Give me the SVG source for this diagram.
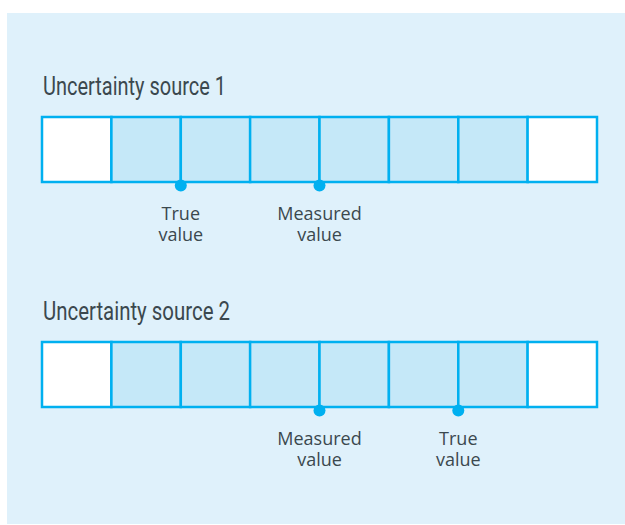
<svg xmlns="http://www.w3.org/2000/svg" width="625" height="525" viewBox="0 0 625 525">
  <style>
    .panel { fill: #dff1fb; }
    .cell { fill: #c5e8f8; stroke: #00b0f0; stroke-width: 2.5; }
    .end { fill: #ffffff; stroke: #00b0f0; stroke-width: 2.5; }
    .dot { fill: #00b0f0; }
    .title { font-family: Roboto, "Liberation Sans", sans-serif; font-size: 25px; fill: #3b484e; }
    .lbl { font-family: "Open Sans", "Noto Sans", sans-serif; font-size: 18px; fill: #3b484e; text-anchor: middle; }
  </style>
  <rect class="panel" x="7" y="13" width="618" height="511"/>

  <g id="source1">
    <text class="title" x="43" y="95" textLength="183" lengthAdjust="spacingAndGlyphs">Uncertainty source 1</text>
    <g id="bar1">
      <rect class="end" x="42" y="117" width="69.4" height="65"/>
      <rect class="cell" x="111.4" y="117" width="69.4" height="65"/>
      <rect class="cell" x="180.8" y="117" width="69.4" height="65"/>
      <rect class="cell" x="250.1" y="117" width="69.4" height="65"/>
      <rect class="cell" x="319.5" y="117" width="69.4" height="65"/>
      <rect class="cell" x="388.9" y="117" width="69.4" height="65"/>
      <rect class="cell" x="458.3" y="117" width="69.4" height="65"/>
      <rect class="end" x="527.6" y="117" width="69.4" height="65"/>
    </g>
    <g id="true1">
      <circle class="dot" cx="180.8" cy="185.5" r="6"/>
      <text class="lbl" x="180.8" y="220">True</text>
      <text class="lbl" x="180.8" y="241">value</text>
    </g>
    <g id="measured1">
      <circle class="dot" cx="319.5" cy="185.5" r="6"/>
      <text class="lbl" x="319.5" y="220">Measured</text>
      <text class="lbl" x="319.5" y="241">value</text>
    </g>
  </g>

  <g id="source2">
    <text class="title" x="43" y="320" textLength="187" lengthAdjust="spacingAndGlyphs">Uncertainty source 2</text>
    <g id="bar2">
      <rect class="end" x="42" y="342" width="69.4" height="65"/>
      <rect class="cell" x="111.4" y="342" width="69.4" height="65"/>
      <rect class="cell" x="180.8" y="342" width="69.4" height="65"/>
      <rect class="cell" x="250.1" y="342" width="69.4" height="65"/>
      <rect class="cell" x="319.5" y="342" width="69.4" height="65"/>
      <rect class="cell" x="388.9" y="342" width="69.4" height="65"/>
      <rect class="cell" x="458.3" y="342" width="69.4" height="65"/>
      <rect class="end" x="527.6" y="342" width="69.4" height="65"/>
    </g>
    <g id="measured2">
      <circle class="dot" cx="319.5" cy="410.5" r="6"/>
      <text class="lbl" x="319.5" y="445">Measured</text>
      <text class="lbl" x="319.5" y="466">value</text>
    </g>
    <g id="true2">
      <circle class="dot" cx="458.3" cy="410.5" r="6"/>
      <text class="lbl" x="458.3" y="445">True</text>
      <text class="lbl" x="458.3" y="466">value</text>
    </g>
  </g>
</svg>
